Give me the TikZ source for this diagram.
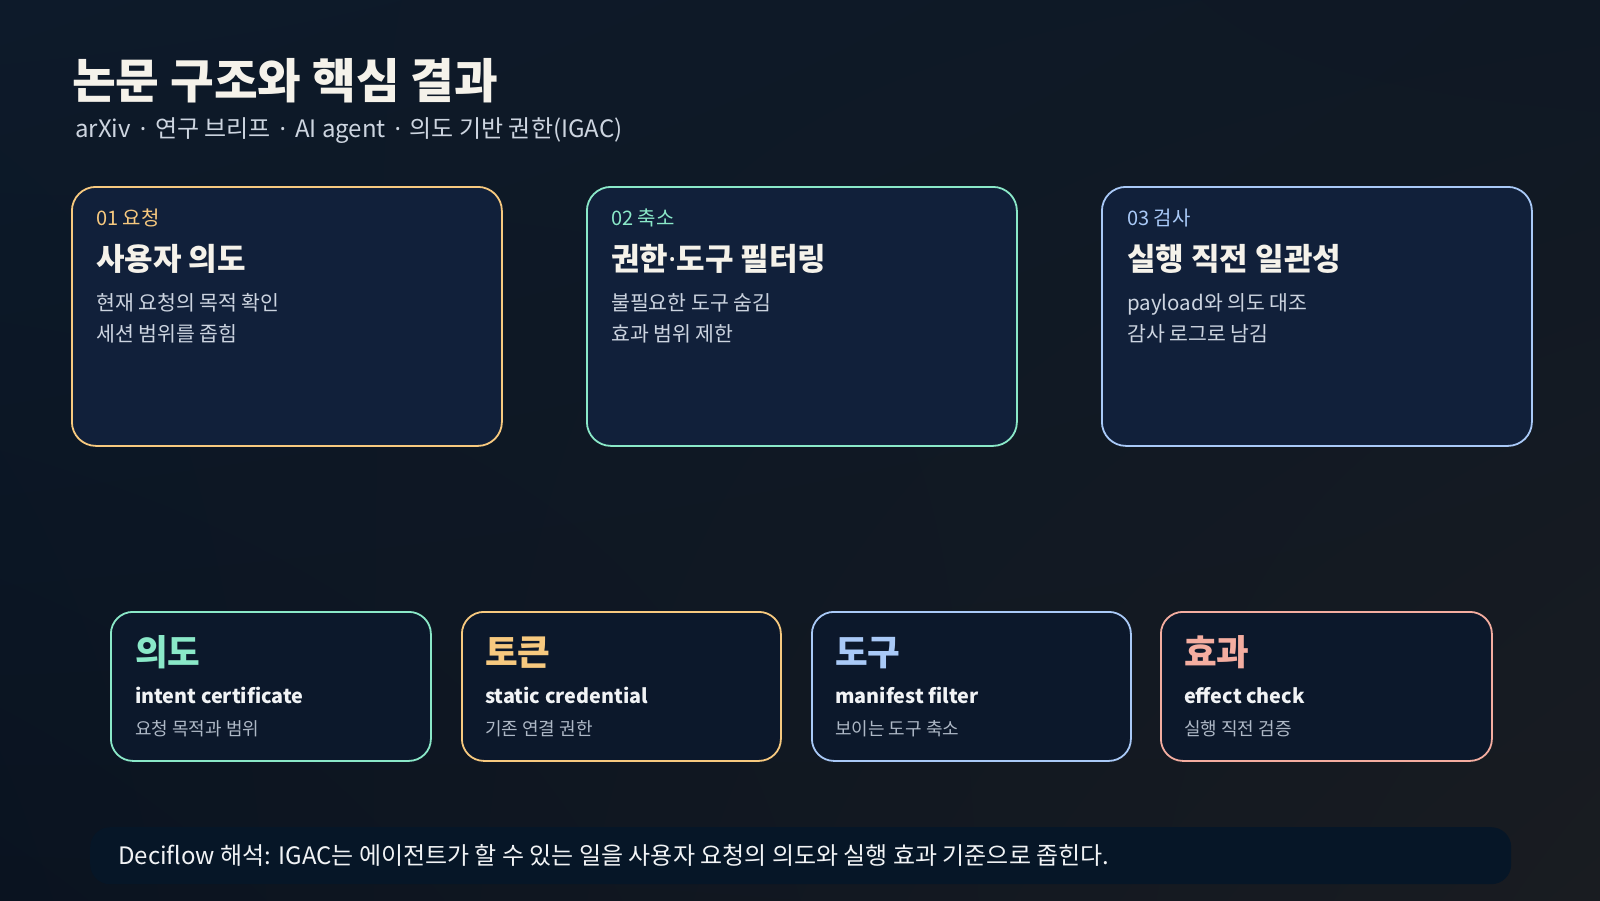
\documentclass[tikz,border=0pt]{standalone}
\usepackage{fontspec}
\usetikzlibrary{shadings}
\setmainfont{Noto Sans CJK KR}
\newfontfamily\latinfont{Noto Sans}
\newcommand{\mdot}{{\latinfont ·}}
\newcommand{\sdot}{\hspace{3.5pt} \mdot{} \hspace{3.5pt}}
\definecolor{bgA}{HTML}{0D1A2A}
\definecolor{bgB}{HTML}{0F1824}
\definecolor{bgC}{HTML}{0A1320}
\definecolor{bgD}{HTML}{191C21}
\definecolor{topfill}{HTML}{11203A}
\definecolor{botfill}{HTML}{0C182B}
\definecolor{banfill}{HTML}{061627}
\definecolor{cOrange}{HTML}{F7C97F}
\definecolor{cMint}{HTML}{8AE8C8}
\definecolor{cBlue}{HTML}{A9C9F7}
\definecolor{cSalmon}{HTML}{F4ADA0}
\definecolor{titlewhite}{HTML}{F5F2EA}
\definecolor{subgray}{HTML}{CDD5E0}
\definecolor{bodygray}{HTML}{CCD4E0}
\definecolor{smallgray}{HTML}{AEB8C6}
\definecolor{textwhite}{HTML}{F1F3F5}
\begin{document}
\begin{tikzpicture}[x=1pt,y=-1pt,
  topbox/.style={draw, line width=1.8pt, fill=topfill, rounded corners=24pt, minimum width=430pt, minimum height=259pt, anchor=north west, inner sep=0pt},
  botbox/.style={draw, line width=1.8pt, fill=botfill, rounded corners=22pt, minimum height=149pt, anchor=north west, inner sep=0pt},
  txt/.style={anchor=base west, inner sep=0pt},
  tag/.style={txt, font=\fontsize{20}{23}\selectfont},
  head/.style={txt, font=\bfseries\fontsize{31}{35}\selectfont, text=titlewhite},
  body/.style={txt, font=\fontsize{20.5}{24}\selectfont, text=bodygray},
  bighead/.style={txt, font=\bfseries\fontsize{35.5}{40}\selectfont},
  midhead/.style={txt, font=\bfseries\fontsize{19.8}{24}\selectfont, text=textwhite},
  small/.style={txt, font=\fontsize{18}{21}\selectfont, text=smallgray}
]
\useasboundingbox (0,0) rectangle (1600,900);
\shade[upper left=bgA, upper right=bgB, lower left=bgC, lower right=bgD] (0,0) rectangle (1600,900);

% title
\node[txt, font=\bfseries\fontsize{47.5}{52}\selectfont, text=titlewhite] (title) at (72,98) {논문 구조와 핵심 결과};
\node[txt, font=\fontsize{24}{28}\selectfont, text=subgray] (subtitle) at (75,137) {arXiv\sdot 연구 브리프\sdot AI agent\sdot 의도 기반 권한(IGAC)};

% top boxes
\node[topbox, draw=cOrange] (b1) at (71,186) {};
\node[topbox, draw=cMint] (b2) at (586,186) {};
\node[topbox, draw=cBlue] (b3) at (1101,186) {};

\node[tag, text=cOrange] (b1tag) at (96,225) {01 요청};
\node[head] (b1head) at (96,270) {사용자 의도};
\node[body] (b1l1) at (96,310) {현재 요청의 목적 확인};
\node[body] (b1l2) at (96,341) {세션 범위를 좁힘};

\node[tag, text=cMint] (b2tag) at (611,225) {02 축소};
\node[head] (b2head) at (611,270) {권한\mdot 도구 필터링};
\node[body] (b2l1) at (611,310) {불필요한 도구 숨김};
\node[body] (b2l2) at (611,341) {효과 범위 제한};

\node[tag, text=cBlue] (b3tag) at (1127,225) {03 검사};
\node[head] (b3head) at (1127,270) {실행 직전 일관성};
\node[body] (b3l1) at (1127,310) {payload와 의도 대조};
\node[body] (b3l2) at (1127,341) {감사 로그로 남김};

% bottom boxes
\node[botbox, draw=cMint, minimum width=320pt] (c1) at (110,611) {};
\node[botbox, draw=cOrange, minimum width=319pt] (c2) at (461,611) {};
\node[botbox, draw=cBlue, minimum width=319pt] (c3) at (811,611) {};
\node[botbox, draw=cSalmon, minimum width=331pt] (c4) at (1160,611) {};

\node[bighead, text=cMint] (c1h) at (135,665) {의도};
\node[midhead] (c1m) at (135,703) {intent certificate};
\node[small] (c1s) at (135,735) {요청 목적과 범위};

\node[bighead, text=cOrange] (c2h) at (485,665) {토큰};
\node[midhead] (c2m) at (485,703) {static credential};
\node[small] (c2s) at (485,735) {기존 연결 권한};

\node[bighead, text=cBlue] (c3h) at (835,665) {도구};
\node[midhead] (c3m) at (835,703) {manifest filter};
\node[small] (c3s) at (835,735) {보이는 도구 축소};

\node[bighead, text=cSalmon] (c4h) at (1184,665) {효과};
\node[midhead] (c4m) at (1184,703) {effect check};
\node[small] (c4s) at (1184,735) {실행 직전 검증};

% banner
\node[fill=banfill, rounded corners=20pt, minimum width=1421pt, minimum height=57pt, anchor=north west, inner sep=0pt] (banner) at (90,827) {};
\node[txt, font=\fontsize{24}{28}\selectfont, text=textwhite] (bantext) at (118,864) {Deciflow 해석: IGAC는 에이전트가 할 수 있는 일을 사용자 요청의 의도와 실행 효과 기준으로 좁힌다.};
\end{tikzpicture}
\end{document}
